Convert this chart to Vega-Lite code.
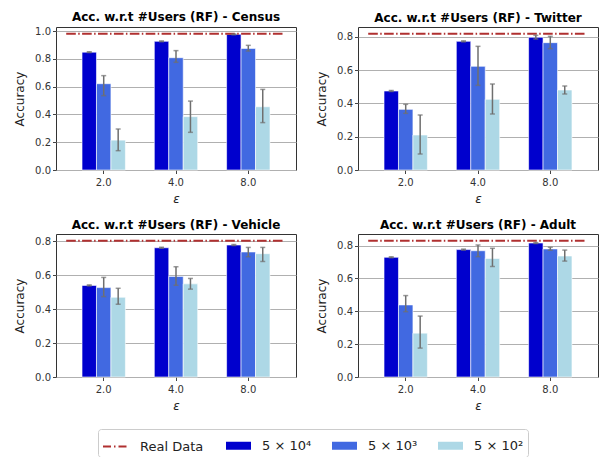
{
  "$schema": "https://vega.github.io/schema/vega-lite/v6.json",
  "padding": {"left": 13, "top": 10, "right": 0, "bottom": 0},
  "datasets": {
    "bars": [
      {"ds": "Census", "eps": "2.0", "users": "5 × 10⁴", "acc": 0.848, "lo": 0.845, "hi": 0.851},
      {"ds": "Census", "eps": "2.0", "users": "5 × 10³", "acc": 0.621, "lo": 0.535, "hi": 0.679},
      {"ds": "Census", "eps": "2.0", "users": "5 × 10²", "acc": 0.215, "lo": 0.139, "hi": 0.295},
      {"ds": "Census", "eps": "4.0", "users": "5 × 10⁴", "acc": 0.926, "lo": 0.923, "hi": 0.929},
      {"ds": "Census", "eps": "4.0", "users": "5 × 10³", "acc": 0.808, "lo": 0.775, "hi": 0.859},
      {"ds": "Census", "eps": "4.0", "users": "5 × 10²", "acc": 0.384, "lo": 0.271, "hi": 0.496},
      {"ds": "Census", "eps": "8.0", "users": "5 × 10⁴", "acc": 0.976, "lo": 0.973, "hi": 0.979},
      {"ds": "Census", "eps": "8.0", "users": "5 × 10³", "acc": 0.875, "lo": 0.856, "hi": 0.897},
      {"ds": "Census", "eps": "8.0", "users": "5 × 10²", "acc": 0.455, "lo": 0.341, "hi": 0.58},
      {"ds": "Twitter", "eps": "2.0", "users": "5 × 10⁴", "acc": 0.474, "lo": 0.471, "hi": 0.477},
      {"ds": "Twitter", "eps": "2.0", "users": "5 × 10³", "acc": 0.364, "lo": 0.34, "hi": 0.394},
      {"ds": "Twitter", "eps": "2.0", "users": "5 × 10²", "acc": 0.21, "lo": 0.096, "hi": 0.33},
      {"ds": "Twitter", "eps": "4.0", "users": "5 × 10⁴", "acc": 0.772, "lo": 0.769, "hi": 0.775},
      {"ds": "Twitter", "eps": "4.0", "users": "5 × 10³", "acc": 0.622, "lo": 0.508, "hi": 0.742},
      {"ds": "Twitter", "eps": "4.0", "users": "5 × 10²", "acc": 0.424, "lo": 0.336, "hi": 0.516},
      {"ds": "Twitter", "eps": "8.0", "users": "5 × 10⁴", "acc": 0.796, "lo": 0.786, "hi": 0.808},
      {"ds": "Twitter", "eps": "8.0", "users": "5 × 10³", "acc": 0.764, "lo": 0.728, "hi": 0.802},
      {"ds": "Twitter", "eps": "8.0", "users": "5 × 10²", "acc": 0.48, "lo": 0.456, "hi": 0.504},
      {"ds": "Vehicle", "eps": "2.0", "users": "5 × 10⁴", "acc": 0.54, "lo": 0.537, "hi": 0.543},
      {"ds": "Vehicle", "eps": "2.0", "users": "5 × 10³", "acc": 0.527, "lo": 0.474, "hi": 0.587},
      {"ds": "Vehicle", "eps": "2.0", "users": "5 × 10²", "acc": 0.47, "lo": 0.429, "hi": 0.523},
      {"ds": "Vehicle", "eps": "4.0", "users": "5 × 10⁴", "acc": 0.762, "lo": 0.759, "hi": 0.765},
      {"ds": "Vehicle", "eps": "4.0", "users": "5 × 10³", "acc": 0.593, "lo": 0.541, "hi": 0.65},
      {"ds": "Vehicle", "eps": "4.0", "users": "5 × 10²", "acc": 0.549, "lo": 0.518, "hi": 0.581},
      {"ds": "Vehicle", "eps": "8.0", "users": "5 × 10⁴", "acc": 0.778, "lo": 0.775, "hi": 0.781},
      {"ds": "Vehicle", "eps": "8.0", "users": "5 × 10³", "acc": 0.737, "lo": 0.709, "hi": 0.764},
      {"ds": "Vehicle", "eps": "8.0", "users": "5 × 10²", "acc": 0.727, "lo": 0.681, "hi": 0.764},
      {"ds": "Adult", "eps": "2.0", "users": "5 × 10⁴", "acc": 0.729, "lo": 0.726, "hi": 0.732},
      {"ds": "Adult", "eps": "2.0", "users": "5 × 10³", "acc": 0.439, "lo": 0.398, "hi": 0.496},
      {"ds": "Adult", "eps": "2.0", "users": "5 × 10²", "acc": 0.267, "lo": 0.176, "hi": 0.371},
      {"ds": "Adult", "eps": "4.0", "users": "5 × 10⁴", "acc": 0.776, "lo": 0.773, "hi": 0.779},
      {"ds": "Adult", "eps": "4.0", "users": "5 × 10³", "acc": 0.769, "lo": 0.733, "hi": 0.804},
      {"ds": "Adult", "eps": "4.0", "users": "5 × 10²", "acc": 0.722, "lo": 0.673, "hi": 0.784},
      {"ds": "Adult", "eps": "8.0", "users": "5 × 10⁴", "acc": 0.816, "lo": 0.813, "hi": 0.819},
      {"ds": "Adult", "eps": "8.0", "users": "5 × 10³", "acc": 0.78, "lo": 0.772, "hi": 0.79},
      {"ds": "Adult", "eps": "8.0", "users": "5 × 10²", "acc": 0.737, "lo": 0.706, "hi": 0.773}
    ],
    "real": [
      {"ds": "Census", "series": "Real Data", "real": 0.98},
      {"ds": "Twitter", "series": "Real Data", "real": 0.817},
      {"ds": "Vehicle", "series": "Real Data", "real": 0.803},
      {"ds": "Adult", "series": "Real Data", "real": 0.83}
    ]
  },
  "config": {
    "font": "DejaVu Sans",
    "view": {"stroke": "#333", "strokeWidth": 1},
    "title": {"fontSize": 12, "fontWeight": "bold", "color": "#000", "offset": 2, "font": "DejaVu Sans"},
    "axis": {"labelFont": "DejaVu Sans", "labelFontSize": 10, "labelColor": "#333", "titleFont": "DejaVu Sans", "titleFontSize": 12, "titleFontWeight": "normal", "titleColor": "#222", "tickColor": "#444", "tickSize": 3.5, "domain": false, "gridColor": "#b0b0b0", "gridWidth": 1, "labelOverlap": false},
    "axisX": {"grid": false, "labelAngle": 0, "titleFontStyle": "italic", "labelPadding": 4, "titlePadding": 6},
    "axisY": {"grid": true, "titlePadding": 8},
    "legend": {
      "orient": "none", "legendY": 402, "direction": "horizontal",
      "columnPadding": 20, "symbolSize": 625, "labelFont": "DejaVu Sans", "labelFontSize": 13, "labelColor": "#222",
      "labelOffset": 11, "padding": 4, "symbolOpacity": 1
    }
  },
  "vconcat": [
    {
      "hconcat": [
        {
          "width": 240, "height": 143,
          "title": "Acc. w.r.t #Users (RF) - Census",
          "layer": [
            {
              "data": {"name": "bars"},
              "transform": [{"filter": "datum.ds === 'Census'"}],
              "mark": {"type": "bar", "stroke": "white", "strokeWidth": 0.6},
              "encoding": {
                "x": {"field": "eps", "type": "nominal", "sort": ["2.0", "4.0", "8.0"], "scale": {"paddingInner": 0.4, "paddingOuter": 0.36}, "axis": {"title": "ε"}},
                "xOffset": {"field": "users", "type": "nominal", "scale": {"domain": ["5 × 10⁴", "5 × 10³", "5 × 10²"]}},
                "y": {"field": "acc", "type": "quantitative", "scale": {"domain": [0, 1.029], "nice": false}, "axis": {"title": "Accuracy", "values": [0, 0.2, 0.4, 0.6, 0.8, 1.0], "format": ".1f"}},
                "color": {"field": "users", "type": "nominal",
                  "scale": {"domain": ["5 × 10⁴", "5 × 10³", "5 × 10²"], "range": ["#0000cd", "#4169e1", "#add8e6"]},
                  "legend": {"title": " ", "titleOrient": "left", "titlePadding": 124, "orient": "none", "legendX": 42, "legendY": 402, "columns": 3, "symbolType": "M-1,-0.32H1V0.32H-1Z", "symbolStrokeWidth": 0, "strokeColor": "#cccccc", "cornerRadius": 3}
                }
              }
            },
            {
              "data": {"name": "real"},
              "transform": [{"filter": "datum.ds === 'Census'"}],
              "mark": {"type": "rule", "strokeDash": [9.6, 2.4, 1.5, 2.4], "strokeWidth": 2, "xOffset": -37.5, "x2Offset": 35},
              "encoding": {
                "x": {"datum": "2.0"},
                "x2": {"datum": "8.0"},
                "y": {"field": "real", "type": "quantitative", "axis": {"title": "Accuracy", "values": [0, 0.2, 0.4, 0.6, 0.8, 1.0], "format": ".1f"}},
                "stroke": {"field": "series", "type": "nominal",
                  "scale": {"domain": ["Real Data"], "range": ["#b03030"]},
                  "legend": {"title": null, "orient": "none", "legendX": 42, "legendY": 402, "symbolType": "M-1,0H1", "symbolDash": [8, 3, 1.5, 3], "symbolStrokeWidth": 2}
                }
              }
            },
            {
              "data": {"name": "bars"},
              "transform": [{"filter": "datum.ds === 'Census'"}],
              "mark": {"type": "rule", "color": "#6f6f6f", "strokeWidth": 1.5},
              "encoding": {
                "x": {"field": "eps", "type": "nominal"},
                "xOffset": {"field": "users", "type": "nominal"},
                "y": {"field": "lo", "type": "quantitative", "axis": {"title": "Accuracy", "values": [0, 0.2, 0.4, 0.6, 0.8, 1.0], "format": ".1f"}},
                "y2": {"field": "hi"}
              }
            },
            {
              "data": {"name": "bars"},
              "transform": [{"filter": "datum.ds === 'Census'"}],
              "mark": {"type": "tick", "orient": "horizontal", "color": "#6f6f6f", "size": 5, "thickness": 1.5},
              "encoding": {
                "x": {"field": "eps", "type": "nominal"},
                "xOffset": {"field": "users", "type": "nominal"},
                "y": {"field": "lo", "type": "quantitative", "axis": {"title": "Accuracy", "values": [0, 0.2, 0.4, 0.6, 0.8, 1.0], "format": ".1f"}}
              }
            },
            {
              "data": {"name": "bars"},
              "transform": [{"filter": "datum.ds === 'Census'"}],
              "mark": {"type": "tick", "orient": "horizontal", "color": "#6f6f6f", "size": 5, "thickness": 1.5},
              "encoding": {
                "x": {"field": "eps", "type": "nominal"},
                "xOffset": {"field": "users", "type": "nominal"},
                "y": {"field": "hi", "type": "quantitative", "axis": {"title": "Accuracy", "values": [0, 0.2, 0.4, 0.6, 0.8, 1.0], "format": ".1f"}}
              }
            }
          ]
        },
        {
          "width": 240, "height": 143,
          "title": "Acc. w.r.t #Users (RF) - Twitter",
          "layer": [
            {
              "data": {"name": "bars"},
              "transform": [{"filter": "datum.ds === 'Twitter'"}],
              "mark": {"type": "bar", "stroke": "white", "strokeWidth": 0.6},
              "encoding": {
                "x": {"field": "eps", "type": "nominal", "sort": ["2.0", "4.0", "8.0"], "scale": {"paddingInner": 0.4, "paddingOuter": 0.36}, "axis": {"title": "ε"}},
                "xOffset": {"field": "users", "type": "nominal", "scale": {"domain": ["5 × 10⁴", "5 × 10³", "5 × 10²"]}},
                "y": {"field": "acc", "type": "quantitative", "scale": {"domain": [0, 0.858], "nice": false}, "axis": {"title": "Accuracy", "values": [0, 0.2, 0.4, 0.6, 0.8], "format": ".1f"}},
                "color": {"field": "users", "type": "nominal",
                  "scale": {"domain": ["5 × 10⁴", "5 × 10³", "5 × 10²"], "range": ["#0000cd", "#4169e1", "#add8e6"]},
                  "legend": {"title": " ", "titleOrient": "left", "titlePadding": 124, "orient": "none", "legendX": 42, "legendY": 402, "columns": 3, "symbolType": "M-1,-0.32H1V0.32H-1Z", "symbolStrokeWidth": 0, "strokeColor": "#cccccc", "cornerRadius": 3}
                }
              }
            },
            {
              "data": {"name": "real"},
              "transform": [{"filter": "datum.ds === 'Twitter'"}],
              "mark": {"type": "rule", "strokeDash": [9.6, 2.4, 1.5, 2.4], "strokeWidth": 2, "xOffset": -37.5, "x2Offset": 35},
              "encoding": {
                "x": {"datum": "2.0"},
                "x2": {"datum": "8.0"},
                "y": {"field": "real", "type": "quantitative", "axis": {"title": "Accuracy", "values": [0, 0.2, 0.4, 0.6, 0.8], "format": ".1f"}},
                "stroke": {"field": "series", "type": "nominal",
                  "scale": {"domain": ["Real Data"], "range": ["#b03030"]},
                  "legend": {"title": null, "orient": "none", "legendX": 42, "legendY": 402, "symbolType": "M-1,0H1", "symbolDash": [8, 3, 1.5, 3], "symbolStrokeWidth": 2}
                }
              }
            },
            {
              "data": {"name": "bars"},
              "transform": [{"filter": "datum.ds === 'Twitter'"}],
              "mark": {"type": "rule", "color": "#6f6f6f", "strokeWidth": 1.5},
              "encoding": {
                "x": {"field": "eps", "type": "nominal"},
                "xOffset": {"field": "users", "type": "nominal"},
                "y": {"field": "lo", "type": "quantitative", "axis": {"title": "Accuracy", "values": [0, 0.2, 0.4, 0.6, 0.8], "format": ".1f"}},
                "y2": {"field": "hi"}
              }
            },
            {
              "data": {"name": "bars"},
              "transform": [{"filter": "datum.ds === 'Twitter'"}],
              "mark": {"type": "tick", "orient": "horizontal", "color": "#6f6f6f", "size": 5, "thickness": 1.5},
              "encoding": {
                "x": {"field": "eps", "type": "nominal"},
                "xOffset": {"field": "users", "type": "nominal"},
                "y": {"field": "lo", "type": "quantitative", "axis": {"title": "Accuracy", "values": [0, 0.2, 0.4, 0.6, 0.8], "format": ".1f"}}
              }
            },
            {
              "data": {"name": "bars"},
              "transform": [{"filter": "datum.ds === 'Twitter'"}],
              "mark": {"type": "tick", "orient": "horizontal", "color": "#6f6f6f", "size": 5, "thickness": 1.5},
              "encoding": {
                "x": {"field": "eps", "type": "nominal"},
                "xOffset": {"field": "users", "type": "nominal"},
                "y": {"field": "hi", "type": "quantitative", "axis": {"title": "Accuracy", "values": [0, 0.2, 0.4, 0.6, 0.8], "format": ".1f"}}
              }
            }
          ]
        }
      ],
      "spacing": 18
    },
    {
      "hconcat": [
        {
          "width": 240, "height": 143,
          "title": "Acc. w.r.t #Users (RF) - Vehicle",
          "layer": [
            {
              "data": {"name": "bars"},
              "transform": [{"filter": "datum.ds === 'Vehicle'"}],
              "mark": {"type": "bar", "stroke": "white", "strokeWidth": 0.6},
              "encoding": {
                "x": {"field": "eps", "type": "nominal", "sort": ["2.0", "4.0", "8.0"], "scale": {"paddingInner": 0.4, "paddingOuter": 0.36}, "axis": {"title": "ε"}},
                "xOffset": {"field": "users", "type": "nominal", "scale": {"domain": ["5 × 10⁴", "5 × 10³", "5 × 10²"]}},
                "y": {"field": "acc", "type": "quantitative", "scale": {"domain": [0, 0.843], "nice": false}, "axis": {"title": "Accuracy", "values": [0, 0.2, 0.4, 0.6, 0.8], "format": ".1f"}},
                "color": {"field": "users", "type": "nominal",
                  "scale": {"domain": ["5 × 10⁴", "5 × 10³", "5 × 10²"], "range": ["#0000cd", "#4169e1", "#add8e6"]},
                  "legend": {"title": " ", "titleOrient": "left", "titlePadding": 124, "orient": "none", "legendX": 42, "legendY": 402, "columns": 3, "symbolType": "M-1,-0.32H1V0.32H-1Z", "symbolStrokeWidth": 0, "strokeColor": "#cccccc", "cornerRadius": 3}
                }
              }
            },
            {
              "data": {"name": "real"},
              "transform": [{"filter": "datum.ds === 'Vehicle'"}],
              "mark": {"type": "rule", "strokeDash": [9.6, 2.4, 1.5, 2.4], "strokeWidth": 2, "xOffset": -37.5, "x2Offset": 35},
              "encoding": {
                "x": {"datum": "2.0"},
                "x2": {"datum": "8.0"},
                "y": {"field": "real", "type": "quantitative", "axis": {"title": "Accuracy", "values": [0, 0.2, 0.4, 0.6, 0.8], "format": ".1f"}},
                "stroke": {"field": "series", "type": "nominal",
                  "scale": {"domain": ["Real Data"], "range": ["#b03030"]},
                  "legend": {"title": null, "orient": "none", "legendX": 42, "legendY": 402, "symbolType": "M-1,0H1", "symbolDash": [8, 3, 1.5, 3], "symbolStrokeWidth": 2}
                }
              }
            },
            {
              "data": {"name": "bars"},
              "transform": [{"filter": "datum.ds === 'Vehicle'"}],
              "mark": {"type": "rule", "color": "#6f6f6f", "strokeWidth": 1.5},
              "encoding": {
                "x": {"field": "eps", "type": "nominal"},
                "xOffset": {"field": "users", "type": "nominal"},
                "y": {"field": "lo", "type": "quantitative", "axis": {"title": "Accuracy", "values": [0, 0.2, 0.4, 0.6, 0.8], "format": ".1f"}},
                "y2": {"field": "hi"}
              }
            },
            {
              "data": {"name": "bars"},
              "transform": [{"filter": "datum.ds === 'Vehicle'"}],
              "mark": {"type": "tick", "orient": "horizontal", "color": "#6f6f6f", "size": 5, "thickness": 1.5},
              "encoding": {
                "x": {"field": "eps", "type": "nominal"},
                "xOffset": {"field": "users", "type": "nominal"},
                "y": {"field": "lo", "type": "quantitative", "axis": {"title": "Accuracy", "values": [0, 0.2, 0.4, 0.6, 0.8], "format": ".1f"}}
              }
            },
            {
              "data": {"name": "bars"},
              "transform": [{"filter": "datum.ds === 'Vehicle'"}],
              "mark": {"type": "tick", "orient": "horizontal", "color": "#6f6f6f", "size": 5, "thickness": 1.5},
              "encoding": {
                "x": {"field": "eps", "type": "nominal"},
                "xOffset": {"field": "users", "type": "nominal"},
                "y": {"field": "hi", "type": "quantitative", "axis": {"title": "Accuracy", "values": [0, 0.2, 0.4, 0.6, 0.8], "format": ".1f"}}
              }
            }
          ]
        },
        {
          "width": 240, "height": 143,
          "title": "Acc. w.r.t #Users (RF) - Adult",
          "layer": [
            {
              "data": {"name": "bars"},
              "transform": [{"filter": "datum.ds === 'Adult'"}],
              "mark": {"type": "bar", "stroke": "white", "strokeWidth": 0.6},
              "encoding": {
                "x": {"field": "eps", "type": "nominal", "sort": ["2.0", "4.0", "8.0"], "scale": {"paddingInner": 0.4, "paddingOuter": 0.36}, "axis": {"title": "ε"}},
                "xOffset": {"field": "users", "type": "nominal", "scale": {"domain": ["5 × 10⁴", "5 × 10³", "5 × 10²"]}},
                "y": {"field": "acc", "type": "quantitative", "scale": {"domain": [0, 0.871], "nice": false}, "axis": {"title": "Accuracy", "values": [0, 0.2, 0.4, 0.6, 0.8], "format": ".1f"}},
                "color": {"field": "users", "type": "nominal",
                  "scale": {"domain": ["5 × 10⁴", "5 × 10³", "5 × 10²"], "range": ["#0000cd", "#4169e1", "#add8e6"]},
                  "legend": {"title": " ", "titleOrient": "left", "titlePadding": 124, "orient": "none", "legendX": 42, "legendY": 402, "columns": 3, "symbolType": "M-1,-0.32H1V0.32H-1Z", "symbolStrokeWidth": 0, "strokeColor": "#cccccc", "cornerRadius": 3}
                }
              }
            },
            {
              "data": {"name": "real"},
              "transform": [{"filter": "datum.ds === 'Adult'"}],
              "mark": {"type": "rule", "strokeDash": [9.6, 2.4, 1.5, 2.4], "strokeWidth": 2, "xOffset": -37.5, "x2Offset": 35},
              "encoding": {
                "x": {"datum": "2.0"},
                "x2": {"datum": "8.0"},
                "y": {"field": "real", "type": "quantitative", "axis": {"title": "Accuracy", "values": [0, 0.2, 0.4, 0.6, 0.8], "format": ".1f"}},
                "stroke": {"field": "series", "type": "nominal",
                  "scale": {"domain": ["Real Data"], "range": ["#b03030"]},
                  "legend": {"title": null, "orient": "none", "legendX": 42, "legendY": 402, "symbolType": "M-1,0H1", "symbolDash": [8, 3, 1.5, 3], "symbolStrokeWidth": 2}
                }
              }
            },
            {
              "data": {"name": "bars"},
              "transform": [{"filter": "datum.ds === 'Adult'"}],
              "mark": {"type": "rule", "color": "#6f6f6f", "strokeWidth": 1.5},
              "encoding": {
                "x": {"field": "eps", "type": "nominal"},
                "xOffset": {"field": "users", "type": "nominal"},
                "y": {"field": "lo", "type": "quantitative", "axis": {"title": "Accuracy", "values": [0, 0.2, 0.4, 0.6, 0.8], "format": ".1f"}},
                "y2": {"field": "hi"}
              }
            },
            {
              "data": {"name": "bars"},
              "transform": [{"filter": "datum.ds === 'Adult'"}],
              "mark": {"type": "tick", "orient": "horizontal", "color": "#6f6f6f", "size": 5, "thickness": 1.5},
              "encoding": {
                "x": {"field": "eps", "type": "nominal"},
                "xOffset": {"field": "users", "type": "nominal"},
                "y": {"field": "lo", "type": "quantitative", "axis": {"title": "Accuracy", "values": [0, 0.2, 0.4, 0.6, 0.8], "format": ".1f"}}
              }
            },
            {
              "data": {"name": "bars"},
              "transform": [{"filter": "datum.ds === 'Adult'"}],
              "mark": {"type": "tick", "orient": "horizontal", "color": "#6f6f6f", "size": 5, "thickness": 1.5},
              "encoding": {
                "x": {"field": "eps", "type": "nominal"},
                "xOffset": {"field": "users", "type": "nominal"},
                "y": {"field": "hi", "type": "quantitative", "axis": {"title": "Accuracy", "values": [0, 0.2, 0.4, 0.6, 0.8], "format": ".1f"}}
              }
            }
          ]
        }
      ],
      "spacing": 18
    }
  ],
  "spacing": 13
}
